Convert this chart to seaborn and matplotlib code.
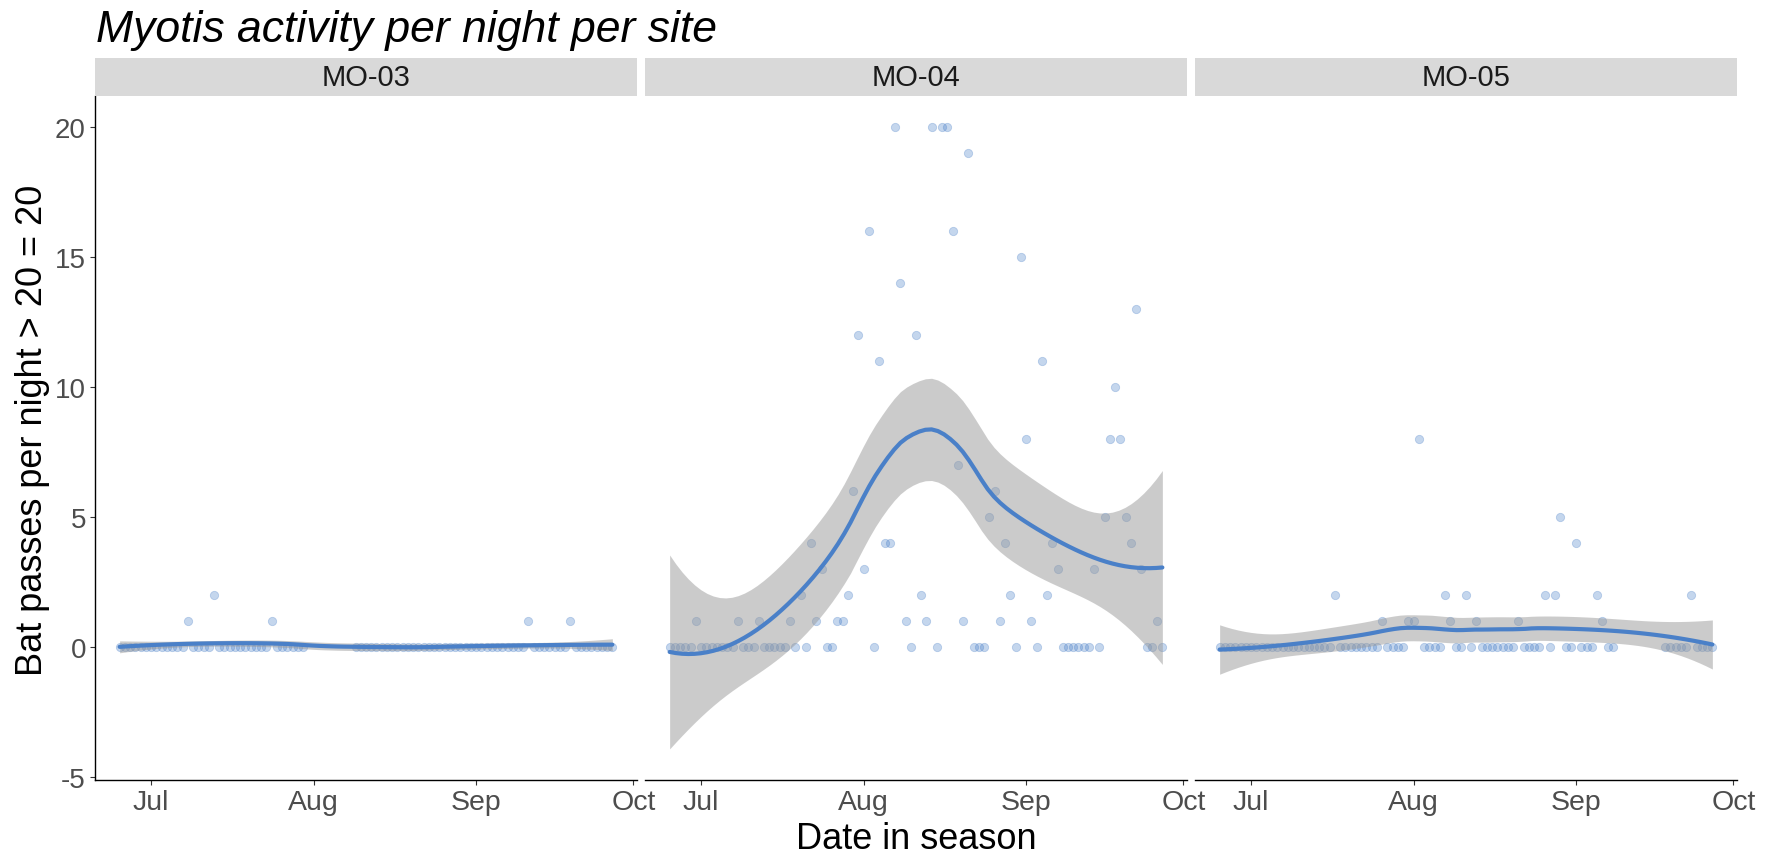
import matplotlib
matplotlib.use("Agg")
import matplotlib.pyplot as plt
import matplotlib.dates as mdates
import numpy as np
import pandas as pd
import seaborn as sns

# nightly counts, one entry per night starting 25 June (nan = detector not recording)
first_night = "2021-06-25"
nan = np.nan
sites = ["MO-03", "MO-04", "MO-05"]

mo03_passes = [
    0, 0, 0, 0, 0, 0, 0, 0, 0, 0,
    0, 0, 0, 1, 0, 0, 0, 0, 2, 0,
    0, 0, 0, 0, 0, 0, 0, 0, 0, 1,
    0, 0, 0, 0, 0, 0, nan, nan, nan, nan,
    nan, nan, nan, nan, nan, 0, 0, 0, 0, 0,
    0, 0, 0, 0, 0, 0, 0, 0, 0, 0,
    0, 0, 0, 0, 0, 0, 0, 0, 0, 0,
    0, 0, 0, 0, 0, 0, 0, 0, 1, 0,
    0, 0, 0, 0, 0, 0, 1, 0, 0, 0,
    0, 0, 0, 0, 0,
]
mo04_passes = [
    0, 0, 0, 0, 0, 1, 0, 0, 0, 0,
    0, 0, 0, 1, 0, 0, 0, 1, 0, 0,
    0, 0, 0, 1, 0, 2, 0, 4, 1, 3,
    0, 0, 1, 1, 2, 6, 12, 3, 16, 0,
    11, 4, 4, 20, 14, 1, 0, 12, 2, 1,
    20, 0, 20, 20, 16, 7, 1, 19, 0, 0,
    0, 5, 6, 1, 4, 2, 0, 15, 8, 1,
    0, 11, 2, 4, 3, 0, 0, 0, 0, 0,
    0, 3, 0, 5, 8, 10, 8, 5, 4, 13,
    3, 0, 0, 1, 0,
]
mo05_passes = [
    0, 0, 0, 0, 0, 0, 0, 0, 0, 0,
    0, 0, 0, 0, 0, 0, 0, 0, 0, 0,
    0, 0, 2, 0, 0, 0, 0, 0, 0, 0,
    0, 1, 0, 0, 0, 0, 1, 1, 8, 0,
    0, 0, 0, 2, 1, 0, 0, 2, 0, 1,
    0, 0, 0, 0, 0, 0, 0, 1, 0, 0,
    0, 0, 2, 0, 2, 5, 0, 0, 4, 0,
    0, 0, 2, 1, 0, 0, nan, nan, nan, nan,
    nan, nan, nan, nan, nan, 0, 0, 0, 0, 0,
    2, 0, 0, 0, 0,
]
site_passes = [mo03_passes, mo04_passes, mo05_passes]

point_col = "#4A80C8"
line_col = "#4A80C8"
text_grey = "#4D4D4D"


def t975(df):
    # Cornish-Fisher approximation of the 97.5% t quantile
    z = 1.959963985
    return (z + (z**3 + z) / (4 * df) + (5 * z**5 + 16 * z**3 + 3 * z) / (96 * df**2)
            + (3 * z**7 + 19 * z**5 + 17 * z**3 - 15 * z) / (384 * df**3))


def loess_rows(x, x0s, span=0.75):
    n = len(x)
    q = int(np.floor(n * span))
    rows = []
    for x0 in x0s:
        d = np.abs(x - x0)
        h = np.sort(d)[q - 1]
        u = d / h
        w = np.where(u < 1, (1 - u**3) ** 3, 0.0)
        X = np.column_stack([np.ones(n), x - x0, (x - x0) ** 2])
        XtW = X.T * w
        rows.append(np.linalg.solve(XtW @ X, XtW)[0])
    return np.array(rows)


def loess_smooth(x, y, n_out=80):
    L = loess_rows(x, x)
    M = np.eye(len(x)) - L
    R = M.T @ M
    d1 = np.trace(R)
    d2 = np.trace(R @ R)
    s = np.sqrt(np.sum((y - L @ y) ** 2) / d1)
    xs = np.linspace(x.min(), x.max(), n_out)
    Ln = loess_rows(x, xs)
    fit = Ln @ y
    se = s * np.sqrt((Ln**2).sum(axis=1))
    t = t975(d1**2 / d2)
    return xs, fit, fit - t * se, fit + t * se


frames = []
for site, passes in zip(sites, site_passes):
    nights = pd.date_range(first_night, periods=len(passes), freq="D")
    df = pd.DataFrame({"site": site, "night": nights, "passes": passes})
    frames.append(df.dropna())
data = pd.concat(frames, ignore_index=True)
data["x"] = mdates.date2num(data["night"])

smooths = {}
for site in sites:
    sub = data[data["site"] == site]
    smooths[site] = loess_smooth(sub["x"].to_numpy(), sub["passes"].to_numpy(float))

# shared scales, expanded 5% like ggplot
xmin, xmax = data["x"].min(), data["x"].max()
xpad = 0.05 * (xmax - xmin)
ylo = min(data["passes"].min(), min(s[2].min() for s in smooths.values()))
yhi = max(data["passes"].max(), max(s[3].max() for s in smooths.values()))
ypad = 0.05 * (yhi - ylo)

sns.set_theme(style="white")
plt.rcParams["font.family"] = ["Liberation Sans", "DejaVu Sans"]
plt.rcParams["axes.unicode_minus"] = False

W, H = 1775, 854
fig = plt.figure(figsize=(W / 100, H / 100), dpi=100)
panel_left = [95, 645, 1195]
panel_w = 542
top, bottom = 97, 781
strip_h = 38

for i, site in enumerate(sites):
    l = panel_left[i]
    ax = fig.add_axes([l / W, (H - bottom) / H, panel_w / W, (bottom - top) / H])
    sub = data[data["site"] == site]
    sns.scatterplot(data=sub, x="x", y="passes", ax=ax, color=point_col, alpha=0.32,
                    s=36, edgecolor=point_col, linewidth=0.6, zorder=2)
    xs, fit, lo, hi = smooths[site]
    ax.fill_between(xs, lo, hi, color="#999999", alpha=0.5, linewidth=0, zorder=3)
    sns.lineplot(x=xs, y=fit, ax=ax, color=line_col, linewidth=3.0, zorder=4)

    ax.set_xlim(xmin - xpad, xmax + xpad)
    ax.set_ylim(ylo - ypad, yhi + ypad)
    ax.xaxis.set_major_locator(mdates.MonthLocator())
    ax.xaxis.set_major_formatter(mdates.DateFormatter("%b"))
    ax.set_yticks([-5, 0, 5, 10, 15, 20])
    ax.set_xlabel("")
    ax.set_ylabel("")
    ax.grid(False)
    for side in ["top", "right"]:
        ax.spines[side].set_visible(False)
    ax.spines["bottom"].set_color("black")
    ax.spines["bottom"].set_linewidth(1.0)
    ax.tick_params(axis="x", bottom=True, length=3.5, width=0.8, color="#333333",
                   pad=3, labelsize=20.5, labelcolor=text_grey)
    if i == 0:
        ax.spines["left"].set_color("black")
        ax.spines["left"].set_linewidth(1.0)
        ax.tick_params(axis="y", left=True, length=3.5, width=0.8, color="#333333",
                       pad=3, labelsize=20, labelcolor=text_grey)
    else:
        ax.spines["left"].set_visible(False)
        ax.tick_params(axis="y", left=False, labelleft=False)

    strip = fig.add_axes([l / W, (H - top) / H, panel_w / W, strip_h / H])
    strip.set_facecolor("#D9D9D9")
    strip.set_xticks([])
    strip.set_yticks([])
    for sp in strip.spines.values():
        sp.set_visible(False)
    strip.text(0.5, 0.5, site, ha="center", va="center", fontsize=21, color="#1A1A1A",
               transform=strip.transAxes)

fig.text(96 / W, 1 - 42 / H, "Myotis activity per night per site", fontsize=32,
         style="italic", color="black", ha="left", va="baseline")
fig.text(916 / W, 1 - 849 / H, "Date in season", fontsize=26, color="black",
         ha="center", va="baseline")
fig.text(33 / W, 1 - 430 / H, "Bat passes per night > 20 = 20", fontsize=26,
         color="black", rotation=90, ha="center", va="center")

fig.savefig("out.png", dpi=100)
